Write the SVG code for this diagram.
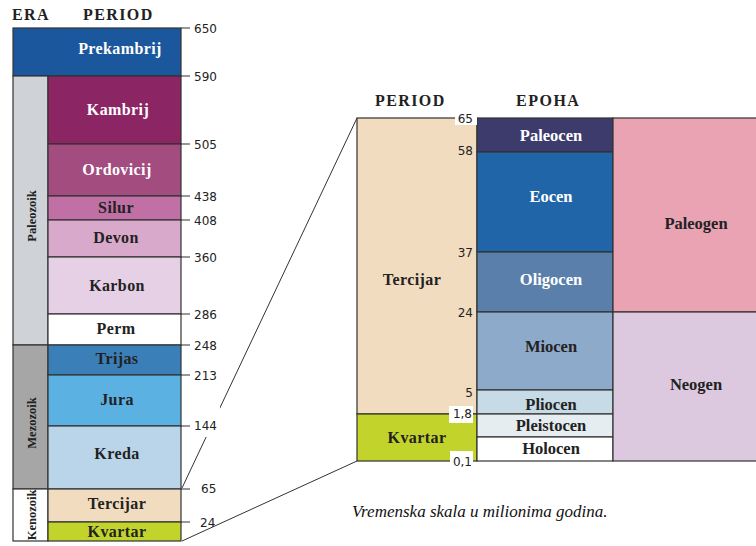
<svg xmlns="http://www.w3.org/2000/svg" width="756" height="546" viewBox="0 0 756 546">
<style>
.box{stroke:#333;stroke-width:1.2}
.hdr{font-family:"Liberation Serif","Times New Roman","DejaVu Serif",serif;font-weight:bold;font-size:16px;letter-spacing:1.4px;fill:#222}
.lb{font-family:"Liberation Serif","Times New Roman","DejaVu Serif",serif;font-weight:bold;font-size:16px;letter-spacing:0.4px;text-anchor:middle;fill:#222}
.lr{font-family:"Liberation Serif","Times New Roman","DejaVu Serif",serif;font-weight:bold;font-size:16.5px;text-anchor:middle;fill:#222}
.w{fill:#fff}
.era{font-family:"Liberation Serif","Times New Roman","DejaVu Serif",serif;font-weight:bold;font-size:12.5px;text-anchor:middle;fill:#222}
.num{font-family:"DejaVu Sans",sans-serif;font-size:12px;fill:#222}
.numr{font-family:"DejaVu Sans",sans-serif;font-size:12px;fill:#222;text-anchor:end}
.tick{stroke:#333;stroke-width:1.2;fill:none}
.conn{stroke:#333;stroke-width:1;fill:none}
.cap{font-family:"Liberation Serif","Times New Roman","DejaVu Serif",serif;font-style:italic;font-size:17px;fill:#111}
</style>
<rect width="756" height="546" fill="#fff"/>

<text class="hdr" x="12" y="20">ERA</text>
<text class="hdr" x="83" y="20">PERIOD</text>
<text class="hdr" x="375" y="106">PERIOD</text>
<text class="hdr" x="516" y="106" style="letter-spacing:1.5px">EPOHA</text>

<g id="connectors">
<line class="conn" x1="182" y1="488" x2="357" y2="118"/>
<line class="conn" x1="182" y1="541" x2="357" y2="461"/>
<path class="tick" d="M181 28H190M181 76H190M181 144H190M181 196H190M181 220H190M181 257H190M181 314H190M181 345H190M181 375H190M181 426H190M181 489H190M181 522H190"/>
</g>

<g id="prekambrij"><rect class="box" x="13" y="28" width="168" height="48" fill="#1b579d"/><text class="lb w" x="120" y="54">Prekambrij</text></g>
<g id="era-paleozoik"><rect class="box" x="13" y="76" width="35" height="269" fill="#cfd3d8"/><text class="era" transform="translate(36 216) rotate(-90)">Paleozoik</text></g>
<g id="era-mezozoik"><rect class="box" x="13" y="345" width="35" height="144" fill="#a6a6a6"/><text class="era" transform="translate(36 423) rotate(-90)">Mezozoik</text></g>
<g id="era-kenozoik"><rect class="box" x="13" y="489" width="35" height="52" fill="#fff"/><text class="era" transform="translate(36 515) rotate(-90)">Kenozoik</text></g>
<g id="kambrij"><rect class="box" x="48" y="76" width="133" height="68" fill="#8c2563"/><text class="lb w" x="118" y="115">Kambrij</text></g>
<g id="ordovicij"><rect class="box" x="48" y="144" width="133" height="52" fill="#a24c80"/><text class="lb w" x="117" y="175">Ordovicij</text></g>
<g id="silur"><rect class="box" x="48" y="196" width="133" height="24" fill="#c070a4"/><text class="lb" x="116" y="213">Silur</text></g>
<g id="devon"><rect class="box" x="48" y="220" width="133" height="37" fill="#d9a9cb"/><text class="lb" x="116" y="243">Devon</text></g>
<g id="karbon"><rect class="box" x="48" y="257" width="133" height="57" fill="#e5d0e6"/><text class="lb" x="117" y="291">Karbon</text></g>
<g id="perm"><rect class="box" x="48" y="314" width="133" height="31" fill="#fff"/><text class="lb" x="116" y="334">Perm</text></g>
<g id="trijas"><rect class="box" x="48" y="345" width="133" height="30" fill="#3b7fb9"/><text class="lb" x="117" y="364">Trijas</text></g>
<g id="jura"><rect class="box" x="48" y="375" width="133" height="51" fill="#5cb1e3"/><text class="lb" x="117" y="405">Jura</text></g>
<g id="kreda"><rect class="box" x="48" y="426" width="133" height="63" fill="#bad5e9"/><text class="lb" x="117" y="459">Kreda</text></g>
<g id="tercijar-l"><rect class="box" x="48" y="489" width="133" height="33" fill="#f2dcc0"/><text class="lb" x="117" y="509">Tercijar</text></g>
<g id="kvartar-l"><rect class="box" x="48" y="522" width="133" height="19" fill="#c2d42b"/><text class="lb" x="117" y="537">Kvartar</text></g>

<g id="left-scale">
<text class="num" x="194" y="33">650</text>
<text class="num" x="194" y="81">590</text>
<text class="num" x="194" y="149">505</text>
<text class="num" x="194" y="201">438</text>
<text class="num" x="194" y="225">408</text>
<text class="num" x="194" y="262">360</text>
<text class="num" x="194" y="319">286</text>
<text class="num" x="194" y="350">248</text>
<text class="num" x="194" y="380">213</text>
<rect x="192" y="406" width="28" height="31" fill="#fff"/>
<text class="num" x="194" y="430">144</text>
<text class="num" x="201" y="493">65</text>
<text class="num" x="200" y="527">24</text>
</g>

<g id="tercijar-r"><rect class="box" x="357" y="118" width="120" height="296" fill="#f2dcc0"/><text class="lb" x="412" y="285">Tercijar</text></g>
<g id="kvartar-r"><rect class="box" x="357" y="414" width="120" height="47" fill="#c2d42b"/><text class="lb" x="417" y="443">Kvartar</text></g>

<g id="paleocen"><rect class="box" x="477" y="118" width="136" height="34" fill="#3d3b6b"/><text class="lr w" x="551" y="141">Paleocen</text></g>
<g id="eocen"><rect class="box" x="477" y="152" width="136" height="100" fill="#1f65a7"/><text class="lr w" x="551" y="202">Eocen</text></g>
<g id="oligocen"><rect class="box" x="477" y="252" width="136" height="60" fill="#5a7fab"/><text class="lr w" x="551" y="285">Oligocen</text></g>
<g id="miocen"><rect class="box" x="477" y="312" width="136" height="78" fill="#8eaacb"/><text class="lr" x="551" y="352">Miocen</text></g>
<g id="pliocen"><rect class="box" x="477" y="390" width="136" height="24" fill="#c6dbe5"/><text class="lr" x="551" y="410">Pliocen</text></g>
<g id="pleistocen"><rect class="box" x="477" y="414" width="136" height="23" fill="#e6edf1"/><text class="lr" x="551" y="431">Pleistocen</text></g>
<g id="holocen"><rect class="box" x="477" y="437" width="136" height="24" fill="#fff"/><text class="lr" x="551" y="454">Holocen</text></g>

<g id="paleogen"><rect class="box" x="613" y="118" width="160" height="194" fill="#e9a3b3"/><text class="lr" x="696" y="229">Paleogen</text></g>
<g id="neogen"><rect class="box" x="613" y="312" width="160" height="149" fill="#dcc9df"/><text class="lr" x="696" y="390">Neogen</text></g>

<g id="right-scale">
<rect x="455" y="109" width="22" height="16" fill="#fff"/>
<text class="numr" x="473" y="123">65</text>
<text class="numr" x="473" y="155">58</text>
<text class="numr" x="473" y="257">37</text>
<text class="numr" x="473" y="317">24</text>
<text class="numr" x="473" y="397">5</text>
<rect x="449" y="406" width="24" height="17" fill="#fff"/>
<text class="numr" x="472" y="418">1,8</text>
<rect x="450" y="451" width="23" height="18" fill="#fff"/>
<text class="numr" x="472" y="466">0,1</text>
</g>

<text class="cap" x="352" y="517">Vremenska skala u milionima godina.</text>
</svg>
